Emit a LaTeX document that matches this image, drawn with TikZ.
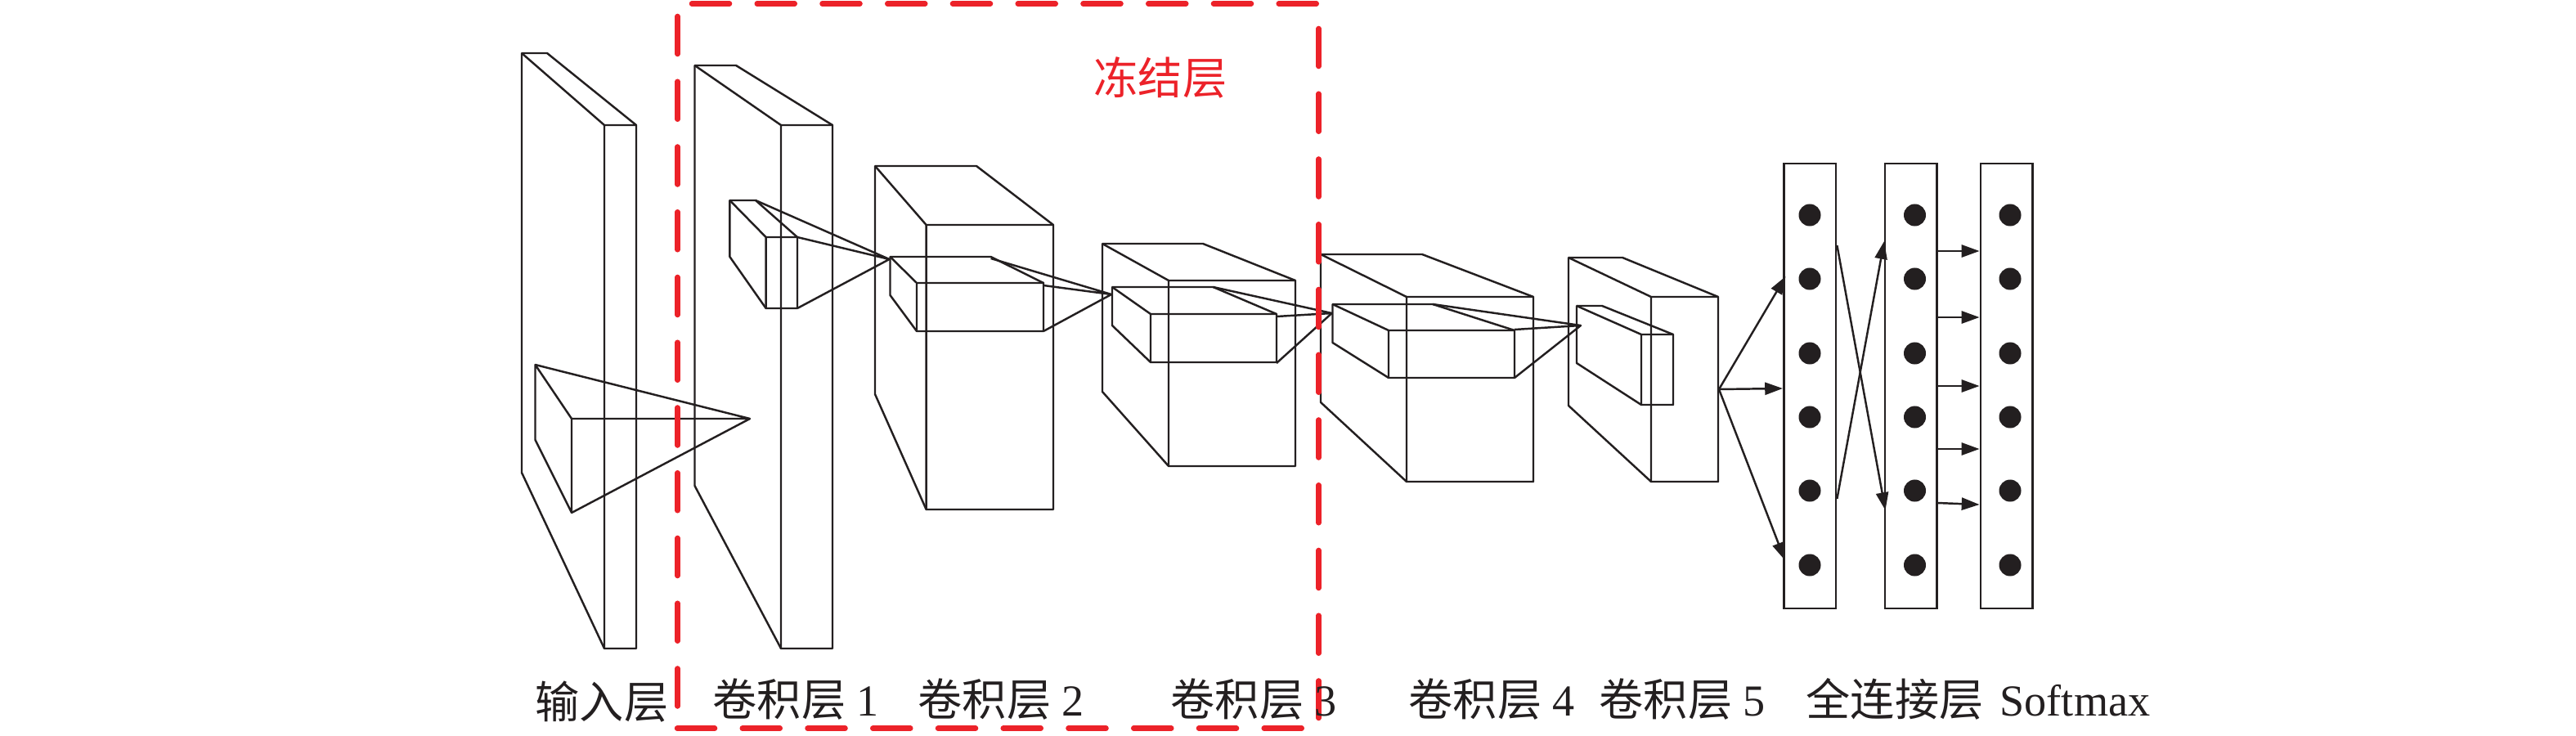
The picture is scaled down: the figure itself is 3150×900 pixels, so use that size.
\documentclass[tikz,border=0pt]{standalone}
\usepackage{fontspec}
\setmainfont{Liberation Serif}
\newfontfamily\cjk{Noto Sans CJK SC}
\usetikzlibrary{arrows.meta,calc}
\definecolor{fink}{HTML}{231F20}
\definecolor{fred}{HTML}{EC2229}

\begin{document}
\begin{tikzpicture}[x=0.01cm,y=-0.01cm,
    every node/.style={font=\fontsize{15.4pt}{18pt}\selectfont,inner sep=0pt,text=fink},
    wire/.style={fink,line width=0.7pt,line join=round},
    link/.style={wire,-{Triangle[length=6.2pt,width=4.3pt]}},
    frozen/.style={fred,line width=1.85pt,line cap=round,dash pattern=on 0.46cm off 0.337cm},
    fccol/.style={draw=fink,line width=0.75pt,minimum width=0.633cm,minimum height=5.44cm},
    caption/.style={anchor=base west}]
  \useasboundingbox (0,0) rectangle (3150,900);

  % input layer
  \draw[wire] (638,578) -- (638,65) -- (669,65) -- (778,153) -- (778,793) -- (739,793) -- cycle;
  \draw[wire] (638,65) -- (739,153) -- (778,153) (739,153) -- (739,793);
  \draw[wire] (654.5,538) -- (654.5,446) -- (699,512) -- (699,627) -- cycle;
  \coordinate (inA) at (654.5,446);
  \coordinate (inB) at (699,512);
  \coordinate (inC) at (699,627);
  \coordinate (apex1) at (917,512);
  \draw[wire] (inA) -- (apex1) -- (inB) (inC) -- (apex1);

  % conv 1
  \draw[wire] (849.5,594) -- (849.5,80) -- (900,80) -- (1018,153) -- (1018,793) -- (955,793) -- cycle;
  \draw[wire] (849.5,80) -- (955,153) -- (1018,153) (955,153) -- (955,793);
  \draw[wire] (892.4,314) -- (892.4,245) -- (924,245) -- (975,290) -- (975,377) -- (936.6,377) -- cycle;
  \draw[wire] (892.4,245) -- (936.6,290) -- (975,290) (936.6,290) -- (936.6,377);
  \coordinate (c1A) at (924,245);
  \coordinate (c1B) at (975,290);
  \coordinate (c1C) at (975,377);
  \coordinate (apex2) at (1087.5,317);
  \draw[wire] (c1A) -- (apex2) -- (c1B) (c1C) -- (apex2);

  % conv 2
  \draw[wire] (1070,482) -- (1070,203) -- (1194,203) -- (1288,275) -- (1288,623) -- (1132.6,623) -- cycle;
  \draw[wire] (1070,203) -- (1132.6,275) -- (1288,275) (1132.6,275) -- (1132.6,623);
  \draw[wire] (1088.5,361) -- (1088.5,314) -- (1211.6,314) -- (1276,346) -- (1276,405) -- (1121,405) -- cycle;
  \draw[wire] (1088.5,314) -- (1121,346) -- (1276,346) (1121,346) -- (1121,405);
  \coordinate (c2A) at (1211.6,316);
  \coordinate (c2B) at (1276,349);
  \coordinate (c2C) at (1276,405);
  \coordinate (apex3) at (1359,360);
  \draw[wire] (c2A) -- (apex3) -- (c2B) (c2C) -- (apex3);

  % conv 3
  \draw[wire] (1348,479) -- (1348,298) -- (1471,298) -- (1584,343) -- (1584,570) -- (1429,570) -- cycle;
  \draw[wire] (1348,298) -- (1429,343) -- (1584,343) (1429,343) -- (1429,570);
  \draw[wire] (1360,398) -- (1360,351) -- (1483.5,351) -- (1561,384) -- (1561,443) -- (1407,443) -- cycle;
  \draw[wire] (1360,351) -- (1407,384) -- (1561,384) (1407,384) -- (1407,443);
  \coordinate (c3A) at (1483.5,351);
  \coordinate (c3B) at (1561,387);
  \coordinate (c3C) at (1561,444);
  \coordinate (apex4) at (1628.6,383);
  \draw[wire] (c3A) -- (apex4) -- (c3B) (c3C) -- (apex4);

  % conv 4
  \draw[wire] (1615,492) -- (1615,311) -- (1739,311) -- (1875,363) -- (1875,589) -- (1720,589) -- cycle;
  \draw[wire] (1615,311) -- (1720,363) -- (1875,363) (1720,363) -- (1720,589);
  \draw[wire] (1629.5,419) -- (1629.5,372) -- (1752,372) -- (1852,404) -- (1852,462) -- (1698,462) -- cycle;
  \draw[wire] (1629.5,372) -- (1698,404) -- (1852,404) (1698,404) -- (1698,462);
  \coordinate (c4A) at (1752,372);
  \coordinate (c4B) at (1852,403);
  \coordinate (c4C) at (1852,462);
  \coordinate (apex5) at (1933,398);
  \draw[wire] (c4A) -- (apex5) -- (c4B) (c4C) -- (apex5);

  % conv 5
  \draw[wire] (1918,496) -- (1918,315) -- (1984,315) -- (2101,363) -- (2101,589) -- (2019,589) -- cycle;
  \draw[wire] (1918,315) -- (2019,363) -- (2101,363) (2019,363) -- (2019,589);
  \draw[wire] (1928,444) -- (1928,374) -- (1959,374) -- (2046,409) -- (2046,495) -- (2007,495) -- cycle;
  \draw[wire] (1928,374) -- (2007,409) -- (2046,409) (2007,409) -- (2007,495);

  % fully connected columns
  \node[fccol] (fc1) at (2213.4,472) {};
  \node[fccol] (fc2) at (2336.5,472) {};
  \node[fccol] (softmax) at (2453.5,472) {};
  \foreach \x in {2213,2341.5,2458}
    \foreach \y in {263,341,432,510,600,691}
      \fill[fink] (\x,\y) circle (0.135cm);

  % links
  \coordinate (c5out) at (2102,476);
  \draw[link] (c5out) -- (2183.5,338);
  \draw[link] (c5out) -- (2180,475);
  \draw[link] (c5out) -- (2182.6,685);
  \draw[link] (fc1.east |- 0,300) -- (2305.5,624);
  \draw[link] (fc1.east |- 0,610) -- (2304,295);
  \foreach \y in {307,388,472,549}
    \draw[link] (fc2.east |- 0,\y) -- (softmax.west |- 0,\y);
  \draw[link] (fc2.east |- 0,615) -- (softmax.west |- 0,617);

  % frozen region
  \draw[frozen] (846,4.5) -- (1610,4.5);
  \draw[frozen] (828.6,20) -- (828.6,864);
  \draw[frozen] (828,890.7) -- (1592,890.7);
  \draw[frozen] (1612.5,35) -- (1612.5,878);
  \node[caption,text=fred] (frozenlbl) at (1337,115) {\cjk 冻结层};

  % captions
  \node[caption] (capin) at (654,878) {\cjk 输入层};
  \node[caption] (capa) at (871,875) {{\cjk 卷积层} 1};
  \node[caption] (capb) at (1122,875) {{\cjk 卷积层} 2};
  \node[caption] (capc) at (1431,875) {{\cjk 卷积层} 3};
  \node[caption] (capd) at (1722,875) {{\cjk 卷积层} 4};
  \node[caption] (cape) at (1955,875) {{\cjk 卷积层} 5};
  \node[caption] (capf) at (2208,875) {\cjk 全连接层};
  \node[caption] (capg) at (2445,875) {Softmax};
\end{tikzpicture}
\end{document}
